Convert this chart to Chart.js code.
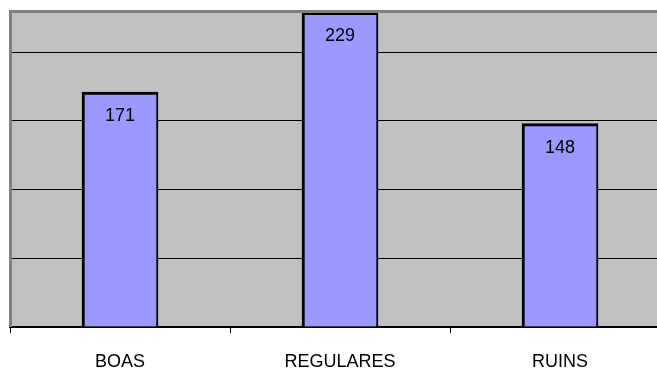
<!DOCTYPE html>
<html>
<head>
<meta charset="utf-8">
<script src="https://cdn.jsdelivr.net/npm/chart.js@4/dist/chart.umd.min.js"></script>
<style>
html,body{margin:0;padding:0;background:#fff;overflow:hidden;width:657px;height:368px;}
#wrap{position:relative;width:682px;height:368px;}
</style>
</head>
<body>
<div id="wrap"><canvas id="c" width="682" height="368"></canvas></div>
<script>
const categories = ["BOAS", "REGULARES", "RUINS"];
const values = [171, 229, 148];
const yMax = 229.3;
const yStep = 50;

const plotDecor = {
  id: 'plotDecor',
  beforeDraw(chart) {
    const {ctx, chartArea: a} = chart;
    ctx.save();
    ctx.fillStyle = '#C0C0C0';
    ctx.fillRect(a.left, a.top, a.right - a.left, a.bottom - a.top);
    ctx.restore();
  },
  afterDraw(chart) {
    const {ctx, chartArea: a} = chart;
    ctx.save();
    ctx.fillStyle = '#808080';
    ctx.fillRect(a.left - 1, a.top - 2, a.right - a.left + 1, 3);
    ctx.fillRect(a.left - 1, a.top - 2, 3, a.bottom - a.top + 2);
    ctx.restore();
  }
};

const valueLabels = {
  id: 'valueLabels',
  afterDatasetsDraw(chart) {
    const {ctx} = chart;
    const meta = chart.getDatasetMeta(0);
    ctx.save();
    ctx.font = '18px "Liberation Sans", Arial, sans-serif';
    ctx.fillStyle = '#000';
    ctx.textAlign = 'center';
    ctx.textBaseline = 'middle';
    meta.data.forEach((bar, i) => {
      ctx.fillText(String(values[i]), bar.x, bar.y + 24);
    });
    ctx.restore();
  }
};

new Chart(document.getElementById('c'), {
  type: 'bar',
  data: {
    labels: categories,
    datasets: [{
      data: values,
      backgroundColor: '#9999FF',
      borderColor: '#000000',
      borderWidth: {top: 3, left: 3, right: 2, bottom: 0},
      borderSkipped: 'bottom',
      barThickness: 76
    }]
  },
  options: {
    responsive: false,
    animation: false,
    events: [],
    layout: {padding: {left: 10, right: 12, top: 12, bottom: 0}},
    plugins: {legend: {display: false}, tooltip: {enabled: false}, title: {display: false}},
    scales: {
      x: {
        offset: true,
        grid: {offset: true, drawOnChartArea: false, drawTicks: true, tickLength: 6, color: '#000', lineWidth: 1},
        border: {display: true, color: '#000', width: 2},
        ticks: {color: '#000', padding: 18, font: {family: '"Liberation Sans", Arial, sans-serif', size: 18}, maxRotation: 0},
        afterFit(scale) { scale.height = 41; }
      },
      y: {
        min: 0,
        max: yMax,
        ticks: {display: false, stepSize: yStep, includeBounds: false},
        grid: {
          drawTicks: false,
          color: (c) => (c.tick && c.tick.value > 0 && c.tick.value < yMax) ? '#000' : 'rgba(0,0,0,0)',
          lineWidth: 1
        },
        border: {display: false},
        afterFit(scale) { scale.width = 0; }
      }
    }
  },
  plugins: [plotDecor, valueLabels]
});
</script>
</body>
</html>
